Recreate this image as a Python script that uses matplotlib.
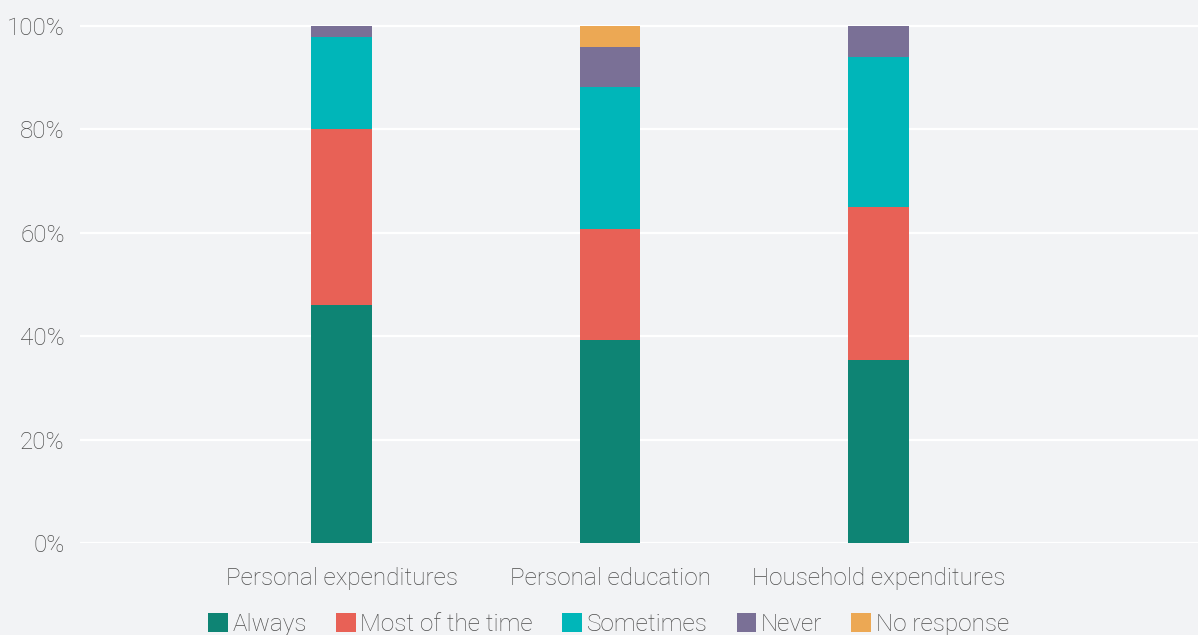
import matplotlib
matplotlib.use('Agg')
import matplotlib.pyplot as plt
import numpy as np
from matplotlib.patches import Patch

categories = ["Personal expenditures", "Personal education", "Household expenditures"]
series_names = ["Always", "Most of the time", "Sometimes", "Never", "No response"]
always = [46.0, 39.3, 35.4]
most_of_the_time = [34.1, 21.4, 29.5]
sometimes = [17.8, 27.5, 29.1]
never = [2.1, 7.7, 6.0]
no_response = [0.0, 4.1, 0.0]
yticks = [0, 20, 40, 60, 80, 100]

colors = ["#0e8474", "#e86156", "#00b6b9", "#7a7096", "#eca854"]
bg = "#f2f3f5"
text_color = "#4d4d4d"

plt.rcParams['font.family'] = ['Roboto', 'DejaVu Sans']
plt.rcParams['font.weight'] = 'light'

fig = plt.figure(figsize=(11.98, 6.35), dpi=100, facecolor=bg)
W, H = 1198, 635
ax = fig.add_axes([80 / W, (H - 543) / H, 1118 / W, 527 / H])
ax.set_facecolor(bg)

x = np.arange(len(categories))
bottom = np.zeros(len(categories))
for name, vals, col in zip(series_names,
                           [always, most_of_the_time, sometimes, never, no_response],
                           colors):
    vals = np.array(vals)
    ax.bar(x, vals, width=0.227, bottom=bottom, color=col, label=name, zorder=3)
    bottom += vals

ax.set_ylim(0, 100 * 527 / 517)
ax.set_xlim(-0.974, 3.19)
ax.set_yticks(yticks)
ax.set_yticklabels([f"{t}%" for t in yticks])
ax.set_xticks(x)
ax.set_xticklabels(categories)
ax.tick_params(axis='both', length=0, labelsize=17.5, labelcolor=text_color)
ax.tick_params(axis='y', pad=11)
ax.tick_params(axis='x', pad=17)
ax.grid(axis='y', color='white', linewidth=1.6, zorder=1)
ax.grid(axis='x', visible=False)
for s in ax.spines.values():
    s.set_visible(False)

handles = [Patch(facecolor=c, label=n) for n, c in zip(series_names, colors)]
fig.legend(handles=handles, loc='center', bbox_to_anchor=(0.508, 0.017), ncol=5,
           frameon=False, fontsize=17.5, handlelength=0.8, handleheight=0.8,
           handletextpad=0.2, columnspacing=1.2, labelcolor=text_color)

fig.savefig("out.png", dpi=100, facecolor=bg)
